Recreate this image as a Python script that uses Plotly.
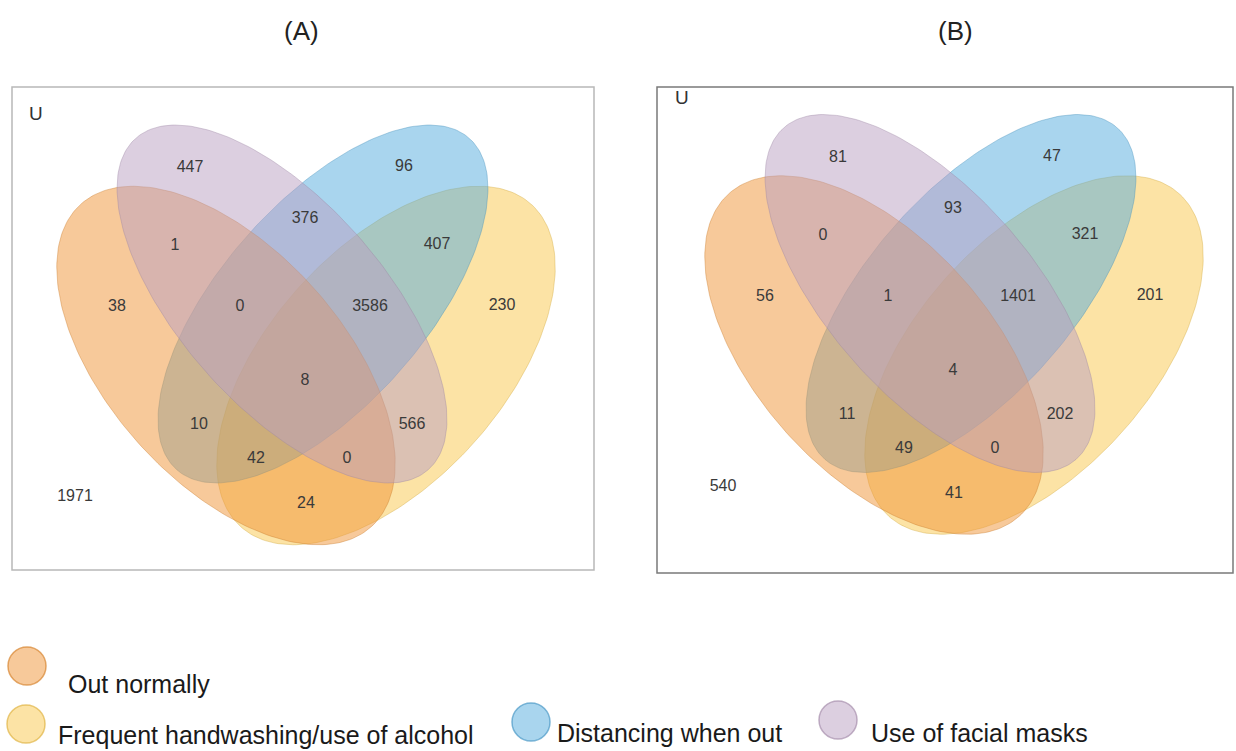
import numpy as np
import plotly.graph_objects as go

# ---------------- data ----------------
panel_titles = ["(A)", "(B)"]
set_names = ["Out normally", "Frequent handwashing/use of alcohol",
             "Distancing when out", "Use of facial masks"]
# region order: P only, B only, P&B, O&P, B&Y, O only, O&P&B, P&B&Y, Y only,
#               all four, O&B, P&Y, O&B&Y, O&P&Y, O&Y, none (outside)
region_keys = ["P", "B", "PB", "OP", "BY", "O", "OPB", "PBY", "Y",
               "OPBY", "OB", "PY", "OBY", "OPY", "OY", "none"]
counts_A = [447, 96, 376, 1, 407, 38, 0, 3586, 230, 8, 10, 566, 42, 0, 24, 1971]
counts_B = [81, 47, 93, 0, 321, 56, 1, 1401, 201, 4, 11, 202, 49, 0, 41, 540]

# ---------------- styling / layout geometry ----------------
set_rgb = {"O": (239, 147, 53), "Y": (249, 199, 75),
           "B": (83, 171, 221), "P": (185, 159, 193)}
draw_order = ["Y", "B", "O", "P"]

# ellipses in panel-A pixel frame: cx, cy, a, b, angle(deg)
ellipses = {
    "O": (226, 365.5, 217, 117, 48.0),
    "Y": (386, 365.5, 217, 117, 132.0),
    "P": (282, 304, 221, 102, 48.6),
    "B": (323, 304, 221, 102, 131.4),
}
label_pos = {
    "P": (190, 168), "B": (404, 167), "PB": (305, 219), "OP": (175, 246),
    "BY": (437, 245), "O": (117, 307), "OPB": (240, 307), "PBY": (370, 307),
    "Y": (502, 306), "OPBY": (305, 381), "OB": (199, 425), "PY": (412, 425),
    "OBY": (256, 459), "OPY": (347, 459), "OY": (306, 504), "none": (75, 497),
}
panel_offsets = [(0, 0), (648, -10.5)]
boxes = [(12, 87, 594, 570, "#b8b8b8"), (657, 87, 1233, 573, "#7a7a7a")]
u_pos = [(36, 113), (682, 97)]
title_pos = [(301, 31), (955, 31)]

W, H = 1236, 751
fig = go.Figure()


def ell_xy(cx, cy, a, b, ang):
    t = np.linspace(0, 2 * np.pi, 240)
    th = np.deg2rad(ang)
    x = cx + a * np.cos(t) * np.cos(th) - b * np.sin(t) * np.sin(th)
    y = cy + a * np.cos(t) * np.sin(th) + b * np.sin(t) * np.cos(th)
    return x, y


shapes = []
annotations = []
for pi, counts in enumerate([counts_A, counts_B]):
    dx, dy = panel_offsets[pi]
    x0, y0, x1, y1, bc = boxes[pi]
    shapes.append(dict(type="rect", xref="x", yref="y", x0=x0, y0=y0, x1=x1, y1=y1,
                       line=dict(color=bc, width=1.5), fillcolor="rgba(0,0,0,0)", layer="below"))
    for k in draw_order:
        cx, cy, a, b, ang = ellipses[k]
        ex, ey = ell_xy(cx + dx, cy + dy, a, b, ang)
        r, g, bb = set_rgb[k]
        fig.add_trace(go.Scatter(
            x=ex, y=ey, mode="lines", fill="toself",
            fillcolor=f"rgba({r},{g},{bb},0.5)",
            line=dict(color=f"rgba({int(r*0.85)},{int(g*0.85)},{int(bb*0.85)},0.4)", width=1),
            hoverinfo="skip", showlegend=False))
    lx = [label_pos[k][0] + dx for k in region_keys]
    ly = [label_pos[k][1] + dy for k in region_keys]
    fig.add_trace(go.Scatter(
        x=lx, y=ly, mode="text", text=[str(c) for c in counts],
        textfont=dict(family="Liberation Sans, Arial, sans-serif", size=16, color="#3a3a3a"),
        hoverinfo="skip", showlegend=False))
    annotations.append(dict(x=u_pos[pi][0], y=u_pos[pi][1], xref="x", yref="y",
                            text="U", showarrow=False,
                            font=dict(family="Liberation Sans, Arial, sans-serif", size=19, color="#333")))
    annotations.append(dict(x=title_pos[pi][0], y=title_pos[pi][1], xref="x", yref="y",
                            text=panel_titles[pi], showarrow=False,
                            font=dict(family="Liberation Sans, Arial, sans-serif", size=26, color="#222")))

# legend (manual, matches the figure's two-line layout)
legend_items = [
    ("O", (27, 666), (66, 684)),
    ("Y", (26, 724), (56, 735)),
    ("B", (531, 722), (555, 733)),
    ("P", (838, 720), (869, 733)),
]
for (k, (ccx, ccy), (tx, ty)), name in zip(legend_items, set_names):
    r, g, bb = set_rgb[k]
    rad = 19
    shapes.append(dict(type="circle", xref="x", yref="y",
                       x0=ccx - rad, x1=ccx + rad, y0=ccy - rad, y1=ccy + rad,
                       fillcolor=f"rgba({r},{g},{bb},0.5)",
                       line=dict(color=f"rgba({int(r*0.9)},{int(g*0.9)},{int(bb*0.9)},0.7)", width=1.5)))
    annotations.append(dict(x=tx, y=ty, xref="x", yref="y", text=name, showarrow=False,
                            xanchor="left", yanchor="middle",
                            font=dict(family="Liberation Sans, Arial, sans-serif", size=25, color="#1a1a1a")))

fig.update_layout(
    width=W, height=H, margin=dict(l=0, r=0, t=0, b=0),
    paper_bgcolor="white", plot_bgcolor="white",
    xaxis=dict(range=[0, W], visible=False, fixedrange=True),
    yaxis=dict(range=[H, 0], visible=False, fixedrange=True),
    shapes=shapes, annotations=annotations, showlegend=False,
)

fig.write_html("out.html", config={"displayModeBar": False},
               post_script="document.body.style.margin='0';document.body.style.overflow='hidden';")
